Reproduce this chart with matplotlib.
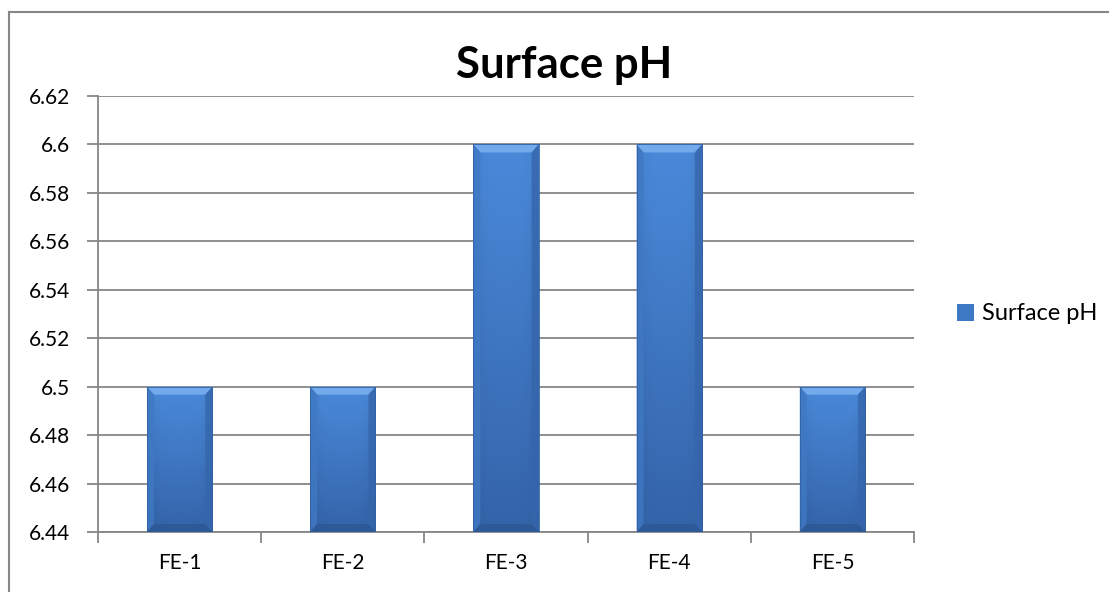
import numpy as np
import matplotlib.pyplot as plt
from matplotlib.patches import Polygon, Rectangle
from matplotlib.lines import Line2D
from matplotlib.colors import to_rgb

plt.rcParams['font.family'] = ['Lato', 'DejaVu Sans']

sites = ['FE-1', 'FE-2', 'FE-3', 'FE-4', 'FE-5']
surface_ph = [6.50, 6.50, 6.60, 6.60, 6.50]
y_ticks = [6.44, 6.46, 6.48, 6.50, 6.52, 6.54, 6.56, 6.58, 6.60, 6.62]
y_tick_labels = ['6.44', '6.46', '6.48', '6.5', '6.52', '6.54', '6.56', '6.58', '6.6', '6.62']

grid_col = '#868686'
top_col = np.array(to_rgb('#4A8ADA'))
bot_col = np.array(to_rgb('#3464AA'))

fig = plt.figure(figsize=(11.09, 5.92), dpi=100)
ax = fig.add_axes([98/1109, 60/592, 816/1109, 436/592])

x = np.arange(len(sites))
ymin, ymax = 6.44, 6.62
ax.set_xlim(-0.5, len(sites) - 0.5)
ax.set_ylim(ymin, ymax)

bar_w = 0.40
bars = ax.bar(x, [v - ymin for v in surface_ph], bottom=ymin, width=bar_w,
              color='#3C78C4', zorder=3, label='Surface pH')

# bevel size in data units (about 7 px)
bx = 7 * (len(sites) / 816)
by = 8 * ((ymax - ymin) / 436)

for b in bars:
    x0, y0 = b.get_x(), b.get_y()
    w, h = b.get_width(), b.get_height()
    x1, y1 = x0 + w, y0 + h
    # body gradient: lighter top, darker bottom, a little darker at the sides
    ny, nx = 64, 32
    t = np.linspace(0, 1, ny)[:, None, None]
    grad = top_col * (1 - t) + bot_col * t
    s = np.abs(np.linspace(-1, 1, nx))[None, :, None]
    grad = grad * (1 - 0.08 * s ** 4)
    im = ax.imshow(grad, extent=[x0, x1, y0, y1], aspect='auto', zorder=3.1,
                   interpolation='bilinear')
    im.set_clip_path(b)
    # top bevel (light)
    ax.add_patch(Polygon([[x0, y1], [x1, y1], [x1 - bx, y1 - by], [x0 + bx, y1 - by]],
                         closed=True, facecolor='#73AAEC', edgecolor='none', zorder=3.2))
    # side bevels
    ax.add_patch(Polygon([[x0, y1], [x0 + bx, y1 - by], [x0 + bx, y0 + by], [x0, y0]],
                         closed=True, facecolor='#4079C4', edgecolor='none', zorder=3.2,
                         alpha=0.8))
    ax.add_patch(Polygon([[x1, y1], [x1 - bx, y1 - by], [x1 - bx, y0 + by], [x1, y0]],
                         closed=True, facecolor='#3566AC', edgecolor='none', zorder=3.2,
                         alpha=0.8))
    # bottom bevel (dark)
    ax.add_patch(Polygon([[x0, y0], [x1, y0], [x1 - bx, y0 + by], [x0 + bx, y0 + by]],
                         closed=True, facecolor='#2D5996', edgecolor='none', zorder=3.2))
    ax.add_patch(Rectangle((x0, y0), w, h, facecolor='none', edgecolor='#3061A3',
                           linewidth=0.6, zorder=3.3))

ax.set_yticks(y_ticks)
ax.set_yticklabels(y_tick_labels)
ax.set_xticks(x)
ax.set_xticklabels(sites)
ax.set_xticks(np.arange(-0.5, len(sites)), minor=True)
ax.tick_params(axis='x', which='major', length=0, labelsize=15, pad=15)
ax.tick_params(axis='x', which='minor', length=8, width=1.3, color=grid_col, direction='out')
ax.tick_params(axis='y', length=8, width=1.3, color=grid_col, labelsize=15, pad=12)

ax.grid(axis='y', color=grid_col, linewidth=1.3, zorder=1)
ax.set_axisbelow(True)
for side in ['top', 'right']:
    ax.spines[side].set_visible(False)
for side in ['left', 'bottom']:
    ax.spines[side].set_color(grid_col)
    ax.spines[side].set_linewidth(1.3)

# title is centred over the whole chart area, not the plot area
fig.text(564/1109, 1 - 78/592, 'Surface pH', fontsize=31.5, fontweight='bold',
         ha='center', va='baseline')

leg = ax.legend(loc='center left', bbox_to_anchor=(1.027, 0.5), frameon=False,
                fontsize=17, handlelength=0.7, handleheight=0.7, handletextpad=0.35)

# chart area border
fig.add_artist(Line2D([8.5/1109, 8.5/1109], [0, 1 - 12/592], color=grid_col, linewidth=1.5))
fig.add_artist(Line2D([8.5/1109, 1], [1 - 12/592, 1 - 12/592], color=grid_col, linewidth=1.5))

fig.savefig('out.png', dpi=100)
